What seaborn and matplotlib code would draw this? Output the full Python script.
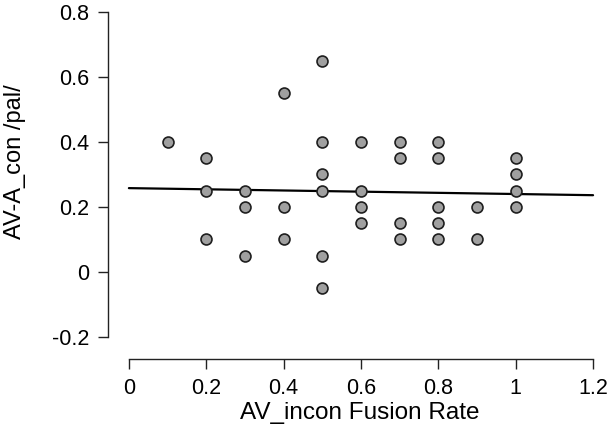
import matplotlib
matplotlib.use("Agg")
import matplotlib.pyplot as plt
import pandas as pd
import seaborn as sns

# values
fusion_rate = (
    [0.1]
    + [0.2] * 3
    + [0.3] * 3
    + [0.4] * 3
    + [0.5] * 6
    + [0.6] * 4
    + [0.7] * 4
    + [0.8] * 5
    + [0.9] * 2
    + [1.0] * 4
)
av_a_con = [
    0.40,
    0.35, 0.25, 0.10,
    0.25, 0.20, 0.05,
    0.55, 0.20, 0.10,
    0.65, 0.40, 0.30, 0.25, 0.05, -0.05,
    0.40, 0.25, 0.20, 0.15,
    0.40, 0.35, 0.15, 0.10,
    0.40, 0.35, 0.20, 0.15, 0.10,
    0.20, 0.10,
    0.35, 0.30, 0.25, 0.20,
]
x_ticks = [0, 0.2, 0.4, 0.6, 0.8, 1, 1.2]
x_tick_labels = ["0", "0.2", "0.4", "0.6", "0.8", "1", "1.2"]
y_ticks = [-0.2, 0, 0.2, 0.4, 0.6, 0.8]
y_tick_labels = ["-0.2", "0", "0.2", "0.4", "0.6", "0.8"]

df = pd.DataFrame({"fusion": fusion_rate, "con": av_a_con})

sns.set_theme(style="ticks")
plt.rcParams["font.family"] = ["Liberation Sans", "DejaVu Sans"]
plt.rcParams.update({
    "text.color": "black",
    "axes.labelcolor": "black",
    "xtick.color": "black",
    "ytick.color": "black",
})

fig = plt.figure(figsize=(6.15, 4.33), dpi=100)
ax = fig.add_axes([108 / 615, 74 / 433, 504.4 / 615, 356.75 / 433])

# fit line spans exactly the x-axis range
ax.set_xlim(0, 1.2)
sns.regplot(
    data=df,
    x="fusion",
    y="con",
    ax=ax,
    ci=None,
    truncate=False,
    scatter_kws=dict(s=62, color="#a0a0a0", edgecolors="#1e1e1e", linewidths=1.2, alpha=1, zorder=3),
    line_kws=dict(color="black", linewidth=1.6, zorder=2),
)

ax.set_xlim(-0.054, 1.25)
ax.set_ylim(-0.268, 0.83)
ax.set_xticks(x_ticks, x_tick_labels)
ax.set_yticks(y_ticks, y_tick_labels)
ax.tick_params(axis="both", labelsize=15.5, length=7.2, width=1.0, color="#222222", pad=6.5)

for side in ["top", "right"]:
    ax.spines[side].set_visible(False)
ax.spines["left"].set_bounds(-0.2, 0.8)
ax.spines["bottom"].set_bounds(0, 1.2)
for side in ["left", "bottom"]:
    ax.spines[side].set_linewidth(1.0)
    ax.spines[side].set_color("#222222")

ax.set_xlabel("AV_incon Fusion Rate", fontsize=17.5)
ax.set_ylabel("AV-A_con /pal/", fontsize=17)
ax.xaxis.set_label_coords(0.5, -0.12)
ax.yaxis.set_label_coords(-0.163, 0.552)

fig.savefig("out.png", dpi=100)
plt.close(fig)
